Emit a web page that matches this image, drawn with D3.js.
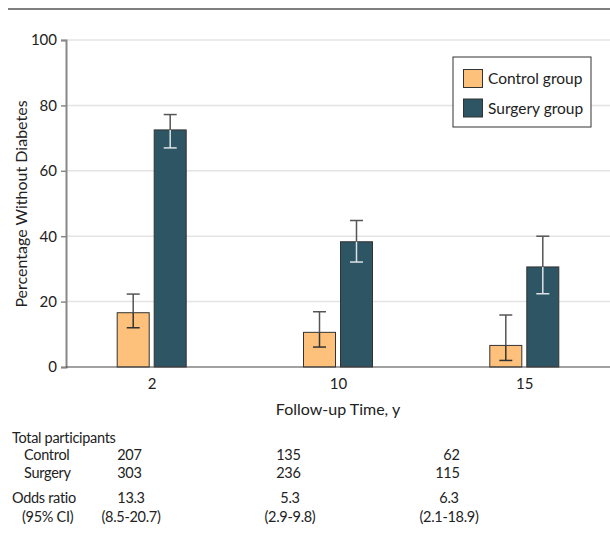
<!DOCTYPE html>
<html>
<head>
<meta charset="utf-8">
<script src="https://cdn.jsdelivr.net/npm/d3@7"></script>
<style>
  html, body { margin: 0; padding: 0; background: #fff; }
  svg text { font-family: Lato, "Noto Sans", sans-serif; fill: #222; }
</style>
</head>
<body>
<svg id="chart" width="610" height="545"></svg>
<script>
// Follow-up years and the two groups
const years = ["2", "10", "15"];
const groups = ["Control group", "Surgery group"];

// Percentage without diabetes, with 95% CI bounds
const controlValues = [16.6, 10.6, 6.6];
const controlLower  = [12.0, 6.1, 2.0];
const controlUpper  = [22.3, 16.9, 15.9];
const surgeryValues = [72.5, 38.3, 30.6];
const surgeryLower  = [67.0, 32.1, 22.4];
const surgeryUpper  = [77.2, 44.8, 40.0];

const yTicks = [0, 20, 40, 60, 80, 100];

// Table below the chart
const controlN = ["207", "135", "62"];
const surgeryN = ["303", "236", "115"];
const oddsRatio = ["13.3", "5.3", "6.3"];
const oddsCI = ["(8.5-20.7)", "(2.9-9.8)", "(2.1-18.9)"];

const colors = { "Control group": "#fec17b", "Surgery group": "#2e5563" };

const svg = d3.select("#chart");

const plot = { left: 66, right: 610, top: 40, bottom: 367 };

const x = d3.scalePoint().domain(years).range([plot.left, plot.right]).padding(0.46);
const xSub = d3.scaleBand().domain(groups).range([-34.5, 34.5]).paddingInner(0.135);
const y = d3.scaleLinear().domain([0, 100]).range([plot.bottom, plot.top]);

// Top rule
svg.append("line")
  .attr("x1", 8).attr("x2", 610).attr("y1", 9).attr("y2", 9)
  .attr("stroke", "#555").attr("stroke-width", 1.5);

// Gridlines
svg.append("g").selectAll("line")
  .data(yTicks.filter(d => d > 0))
  .join("line")
  .attr("x1", plot.left).attr("x2", plot.right)
  .attr("y1", d => y(d)).attr("y2", d => y(d))
  .attr("stroke", "#e4e4e4").attr("stroke-width", 1.5);

// Y axis
const yAxis = svg.append("g")
  .attr("transform", `translate(${plot.left},0)`)
  .call(d3.axisLeft(y).tickValues(yTicks).tickSize(5).tickPadding(4));
yAxis.attr("font-family", null);
yAxis.select(".domain").attr("stroke", "#888").attr("stroke-width", 2);
yAxis.selectAll(".tick line").attr("stroke", "#888").attr("stroke-width", 1.5);
yAxis.selectAll(".tick text").attr("font-size", 15).attr("fill", "#222");

svg.append("text")
  .attr("transform", "translate(27,204) rotate(-90)")
  .attr("text-anchor", "middle")
  .attr("font-size", 16)
  .text("Percentage Without Diabetes");

// Series data rows
const series = [
  { name: "Control group", values: controlValues, lo: controlLower, hi: controlUpper, inner: "#333" },
  { name: "Surgery group", values: surgeryValues, lo: surgeryLower, hi: surgeryUpper, inner: "#dde3e5" }
];
const rows = [];
series.forEach(s => years.forEach((yr, i) => rows.push({
  year: yr, group: s.name, value: s.values[i], lo: s.lo[i], hi: s.hi[i], inner: s.inner
})));

// Bars
svg.append("g").selectAll("rect")
  .data(rows)
  .join("rect")
  .attr("x", d => x(d.year) + xSub(d.group))
  .attr("width", xSub.bandwidth())
  .attr("y", d => y(d.value))
  .attr("height", d => y(0) - y(d.value))
  .attr("fill", d => colors[d.group])
  .attr("stroke", "#333").attr("stroke-width", 1);

// Error bars: dark above the bar top, tinted inside the bar
const cap = 6.5;
const eb = svg.append("g").selectAll("g").data(rows).join("g")
  .attr("transform", d => `translate(${x(d.year) + xSub(d.group) + xSub.bandwidth() / 2},0)`);
eb.append("line")
  .attr("y1", d => y(d.hi)).attr("y2", d => y(d.value))
  .attr("stroke", "#555").attr("stroke-width", 1.5);
eb.append("line")
  .attr("y1", d => y(d.hi)).attr("y2", d => y(d.hi))
  .attr("x1", -cap).attr("x2", cap)
  .attr("stroke", "#555").attr("stroke-width", 1.5);
eb.append("line")
  .attr("y1", d => y(d.value)).attr("y2", d => y(d.lo))
  .attr("stroke", d => d.inner).attr("stroke-width", 1.5);
eb.append("line")
  .attr("y1", d => y(d.lo)).attr("y2", d => y(d.lo))
  .attr("x1", -cap).attr("x2", cap)
  .attr("stroke", d => d.inner).attr("stroke-width", 1.5);

// X axis
const xAxis = svg.append("g")
  .attr("transform", `translate(0,${plot.bottom})`)
  .call(d3.axisBottom(x).tickSize(0).tickPadding(11).tickSizeOuter(0));
xAxis.attr("font-family", null);
xAxis.select(".domain").attr("stroke", "#444").attr("stroke-width", 1.2)
  .attr("d", `M${plot.left},0H${plot.right}`);
xAxis.selectAll(".tick text").attr("font-size", 15).attr("fill", "#222");

svg.append("text")
  .attr("x", x("10")).attr("y", 415)
  .attr("text-anchor", "middle")
  .attr("font-size", 16)
  .text("Follow-up Time, y");

// Legend
const legend = svg.append("g");
legend.append("rect")
  .attr("x", 453).attr("y", 57).attr("width", 138).attr("height", 70)
  .attr("fill", "#fff").attr("stroke", "#333").attr("stroke-width", 1);
groups.forEach((g, i) => {
  legend.append("rect")
    .attr("x", 463.5).attr("y", 69.5 + i * 29.5).attr("width", 19).attr("height", 18)
    .attr("fill", colors[g]).attr("stroke", "#333").attr("stroke-width", 1);
  legend.append("text")
    .attr("x", 488).attr("y", 84 + i * 29.5)
    .attr("font-size", 15.5)
    .text(g);
});

// Participants and odds ratio table
const col = d3.scalePoint().domain(years).range([131, 449]);
const table = svg.append("g").attr("font-size", 14.5).attr("letter-spacing", -0.3);
table.append("text").attr("x", 12).attr("y", 443).text("Total participants");
table.append("text").attr("x", 24).attr("y", 460).text("Control");
table.append("text").attr("x", 24).attr("y", 478).text("Surgery");
table.append("text").attr("x", 12).attr("y", 503).text("Odds ratio");
table.append("text").attr("x", 22).attr("y", 522).text("(95% CI)");

table.selectAll(".nc").data(controlN).join("text")
  .attr("x", (d, i) => col(years[i]) + 10.5).attr("y", 460)
  .attr("text-anchor", "end").text(d => d);
table.selectAll(".ns").data(surgeryN).join("text")
  .attr("x", (d, i) => col(years[i]) + 10.5).attr("y", 478)
  .attr("text-anchor", "end").text(d => d);
table.selectAll(".or").data(oddsRatio).join("text")
  .attr("x", (d, i) => col(years[i])).attr("y", 503)
  .attr("text-anchor", "middle").text(d => d);
table.selectAll(".ci").data(oddsCI).join("text")
  .attr("x", (d, i) => col(years[i])).attr("y", 522)
  .attr("text-anchor", "middle").text(d => d);
</script>
</body>
</html>
